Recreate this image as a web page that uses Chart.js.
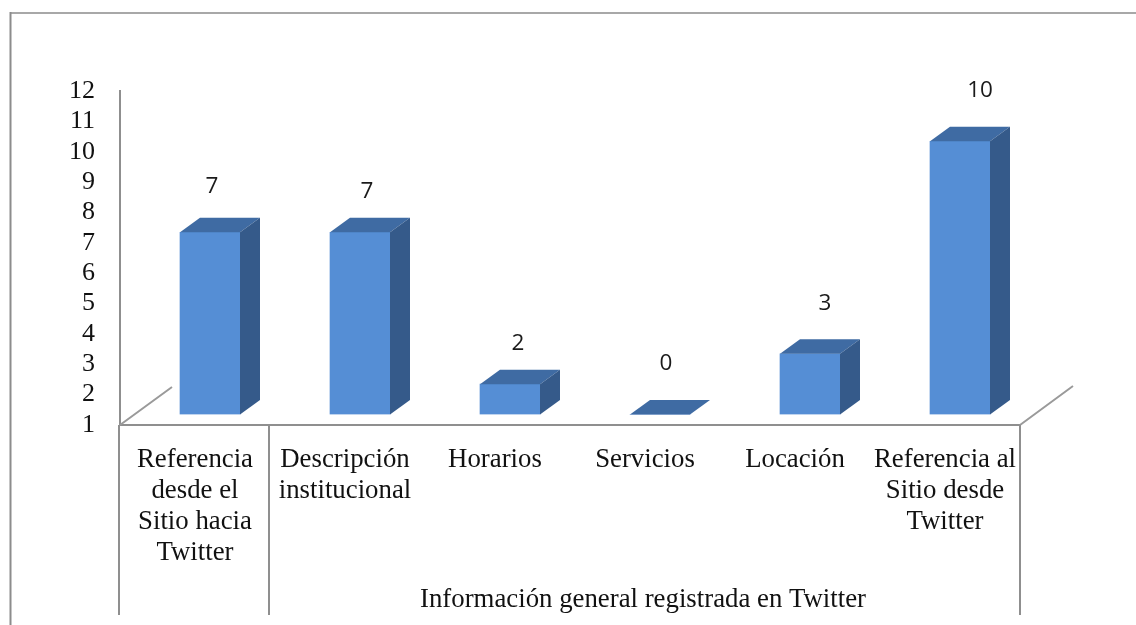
<!DOCTYPE html>
<html>
<head>
<meta charset="utf-8">
<style>html,body{margin:0;padding:0;background:#fff}canvas{display:block}</style>
<script src="https://cdn.jsdelivr.net/npm/chart.js@4/dist/chart.umd.min.js"></script>
</head>
<body>
<div style="width:1136px;height:625px"><canvas id="c" width="1136" height="625"></canvas></div>
<script>
const categories = [
  ["Referencia","desde el","Sitio hacia","Twitter"],
  ["Descripción","institucional"],
  ["Horarios"],
  ["Servicios"],
  ["Locación"],
  ["Referencia al","Sitio desde","Twitter"]
];
const values = [7, 7, 2, 0, 3, 10];
const groupLabel = "Información general registrada en Twitter";

const SERIF = '"Liberation Serif", serif';
const AXIS = '#8f8f8f';
const depth = {x: 20, y: -14.5};
const barShift = {x: 15, y: -10.5};
const labelNudgeX = [2, 7, 8, 6, 15, 20];
const labelNudgeY = [-46, -41, -41, -51, -50, -51];

const bars3d = {
  id: 'bars3d',
  beforeDatasetsDraw(chart) {
    const {ctx, chartArea: a} = chart;
    ctx.save();
    // walls / floor edges
    ctx.strokeStyle = '#9a9a9a'; ctx.lineWidth = 2;
    ctx.beginPath();
    ctx.moveTo(a.left, a.bottom); ctx.lineTo(172, a.bottom - 38);
    ctx.moveTo(a.right, a.bottom); ctx.lineTo(1073, a.bottom - 39);
    ctx.stroke();
    // chart frame
    ctx.strokeStyle = '#a8a8a8'; ctx.lineWidth = 2;
    ctx.beginPath(); ctx.moveTo(1136, 13); ctx.lineTo(10, 13); ctx.stroke();
    ctx.strokeStyle = '#8c8c8c';
    ctx.beginPath(); ctx.moveTo(10.5, 12); ctx.lineTo(10.5, 625); ctx.stroke();
    // group dividers and group label
    ctx.strokeStyle = AXIS; ctx.lineWidth = 2;
    const step = (a.right - a.left) / categories.length;
    [a.left - 1, a.left + step - 1, a.right].forEach(x => {
      ctx.beginPath(); ctx.moveTo(x, a.bottom); ctx.lineTo(x, 615); ctx.stroke();
    });
    ctx.fillStyle = '#111'; ctx.font = '26.8px ' + SERIF;
    ctx.textAlign = 'center'; ctx.textBaseline = 'middle';
    ctx.fillText(groupLabel, 643, 600);
    ctx.restore();
    ctx.save();
    ctx.translate(barShift.x, barShift.y);
  },
  afterDatasetsDraw(chart) {
    const {ctx, scales} = chart;
    const y = scales.y;
    chart.getDatasetMeta(0).data.forEach((bar, i) => {
      const w = bar.width, l = bar.x - w / 2, r = bar.x + w / 2;
      const top = y.getPixelForValue(Math.max(values[i], y.min));
      const bottom = y.getPixelForValue(y.min);
      ctx.fillStyle = '#3f6ba3';
      ctx.beginPath();
      ctx.moveTo(l, top); ctx.lineTo(l + depth.x, top + depth.y);
      ctx.lineTo(r + depth.x, top + depth.y); ctx.lineTo(r, top);
      ctx.closePath(); ctx.fill();
      if (top < bottom) {
        ctx.fillStyle = '#355a8a';
        ctx.beginPath();
        ctx.moveTo(r, top); ctx.lineTo(r + depth.x, top + depth.y);
        ctx.lineTo(r + depth.x, bottom + depth.y); ctx.lineTo(r, bottom);
        ctx.closePath(); ctx.fill();
      }
      ctx.fillStyle = '#1a1a1a';
      ctx.font = '22.5px "Open Sans", sans-serif';
      ctx.textAlign = 'center'; ctx.textBaseline = 'middle';
      ctx.fillText(String(values[i]), bar.x + labelNudgeX[i], top + labelNudgeY[i]);
    });
    ctx.restore();
  }
};

new Chart(document.getElementById('c'), {
  type: 'bar',
  data: {
    labels: categories,
    datasets: [{
      data: values,
      base: 1,
      clip: 0,
      backgroundColor: '#558ed5',
      borderWidth: 0,
      barThickness: 60
    }]
  },
  options: {
    responsive: false,
    animation: false,
    events: [],
    layout: {padding: {top: 91, right: 116, left: 0, bottom: 0}},
    plugins: {legend: {display: false}, title: {display: false}, tooltip: {enabled: false}},
    scales: {
      x: {
        grid: {display: false, drawTicks: false},
        border: {color: AXIS, width: 2},
        afterFit(s) { s.height = 200; },
        ticks: {
          autoSkip: false, maxRotation: 0, minRotation: 0, padding: 19,
          color: '#111',
          font: {family: SERIF, size: 26.8, lineHeight: 31 / 26.8}
        }
      },
      y: {
        min: 1, max: 12,
        grid: {display: false, drawTicks: false},
        border: {color: AXIS, width: 2},
        afterFit(s) { s.width = 120; },
        ticks: {
          stepSize: 1, autoSkip: false, padding: 25, color: '#111',
          font: {family: SERIF, size: 26}
        }
      }
    }
  },
  plugins: [bars3d]
});
</script>
</body>
</html>
